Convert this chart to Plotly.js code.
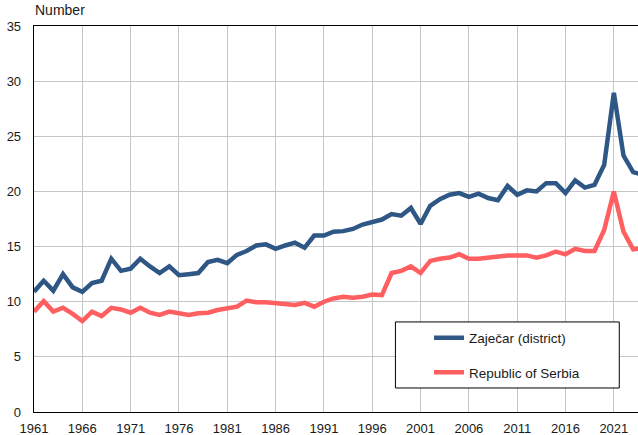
<!DOCTYPE html>
<html>
<head>
<meta charset="utf-8">
<script src="https://cdn.plot.ly/plotly-3.0.1.min.js"></script>
<style>
html,body{margin:0;padding:0;background:#fff;}
#chart{width:638px;height:435px;}
</style>
</head>
<body>
<div id="chart"></div>
<script>
const years = [1961,1962,1963,1964,1965,1966,1967,1968,1969,1970,1971,1972,1973,1974,1975,1976,1977,1978,1979,1980,1981,1982,1983,1984,1985,1986,1987,1988,1989,1990,1991,1992,1993,1994,1995,1996,1997,1998,1999,2000,2001,2002,2003,2004,2005,2006,2007,2008,2009,2010,2011,2012,2013,2014,2015,2016,2017,2018,2019,2020,2021,2022,2023,2024];
const zajecar = [10.9,11.9,11.0,12.5,11.3,10.9,11.7,11.9,13.9,12.8,13.0,13.9,13.2,12.6,13.2,12.4,12.5,12.6,13.6,13.8,13.5,14.25,14.6,15.1,15.2,14.8,15.1,15.35,14.9,16.0,16.0,16.35,16.4,16.6,17.0,17.2,17.45,17.95,17.8,18.5,17.05,18.7,19.3,19.7,19.85,19.5,19.8,19.4,19.2,20.5,19.7,20.1,20.0,20.75,20.75,19.85,21.0,20.35,20.6,22.4,28.95,23.25,21.75,21.5];
const serbia = [9.1,10.05,9.1,9.45,8.9,8.25,9.1,8.7,9.45,9.3,9.0,9.45,9.0,8.8,9.1,8.9,8.8,8.95,9.0,9.25,9.4,9.55,10.1,9.95,9.95,9.9,9.8,9.7,9.9,9.55,10.0,10.3,10.45,10.35,10.45,10.65,10.6,12.6,12.8,13.2,12.6,13.7,13.9,14.0,14.3,13.9,13.9,14.0,14.2,14.2,14.2,14.2,14.0,14.2,14.55,14.3,14.8,14.6,14.6,16.5,20.0,16.35,14.75,14.85];
const xTicks = [1961,1966,1971,1976,1981,1986,1991,1996,2001,2006,2011,2016,2021];
const seriesNames = ["Zaječar (district)", "Republic of Serbia"];
const yAxisLabel = "Number";

const FONT = "Liberation Sans, Arial, sans-serif";
const traces = [
  {x: years, y: zajecar, type: "scatter", mode: "lines", name: seriesNames[0],
   legendgroup: "a", line: {color: "#2f5786", width: 4.5}},
  {x: years, y: serbia, type: "scatter", mode: "lines", name: seriesNames[1],
   legendgroup: "b", line: {color: "#ff5f60", width: 4.5}}
];
const layout = {
  width: 638, height: 435,
  margin: {l: 34, r: 0, t: 26, b: 23, pad: 0},
  paper_bgcolor: "#fff", plot_bgcolor: "#fff",
  font: {family: FONT, size: 13, color: "#1a1a1a"},
  showlegend: true,
  legend: {
    x: 0.654, xanchor: "left", y: 0.232, yanchor: "top",
    bgcolor: "rgba(0,0,0,0)", borderwidth: 0,
    font: {family: FONT, size: 13.5, color: "#1a1a1a"},
    tracegroupgap: 14, traceorder: "grouped"
  },
  xaxis: {
    range: [1961, 2023.5], tickmode: "array", tickvals: xTicks,
    ticktext: xTicks.map(String),
    showgrid: true, gridcolor: "#c6c6c6", gridwidth: 1,
    showline: true, linecolor: "#000", linewidth: 1.3, mirror: true,
    ticks: "", zeroline: false, ticklabelstandoff: 4,
    tickfont: {family: FONT, size: 13, color: "#1a1a1a"}
  },
  yaxis: {
    range: [0, 35], dtick: 5, tick0: 0,
    showgrid: true, gridcolor: "#c6c6c6", gridwidth: 1,
    showline: true, linecolor: "#000", linewidth: 1.3, mirror: false,
    ticks: "", zeroline: false, ticklabelstandoff: 9,
    tickfont: {family: FONT, size: 13, color: "#1a1a1a"}
  },
  shapes: [{
    type: "rect", xref: "paper", yref: "paper",
    x0: 0.5984, x1: 0.969, y0: 0.0622, y1: 0.2333,
    line: {color: "#000", width: 1}, fillcolor: "#fff", layer: "above"
  }],
  annotations: [{
    text: yAxisLabel, xref: "paper", yref: "paper", x: -0.001, y: 1.042,
    xanchor: "left", yanchor: "middle", showarrow: false,
    font: {family: FONT, size: 14, color: "#1a1a1a"}
  }]
};
Plotly.newPlot("chart", traces, layout, {staticPlot: true, displayModeBar: false});
</script>
</body>
</html>
